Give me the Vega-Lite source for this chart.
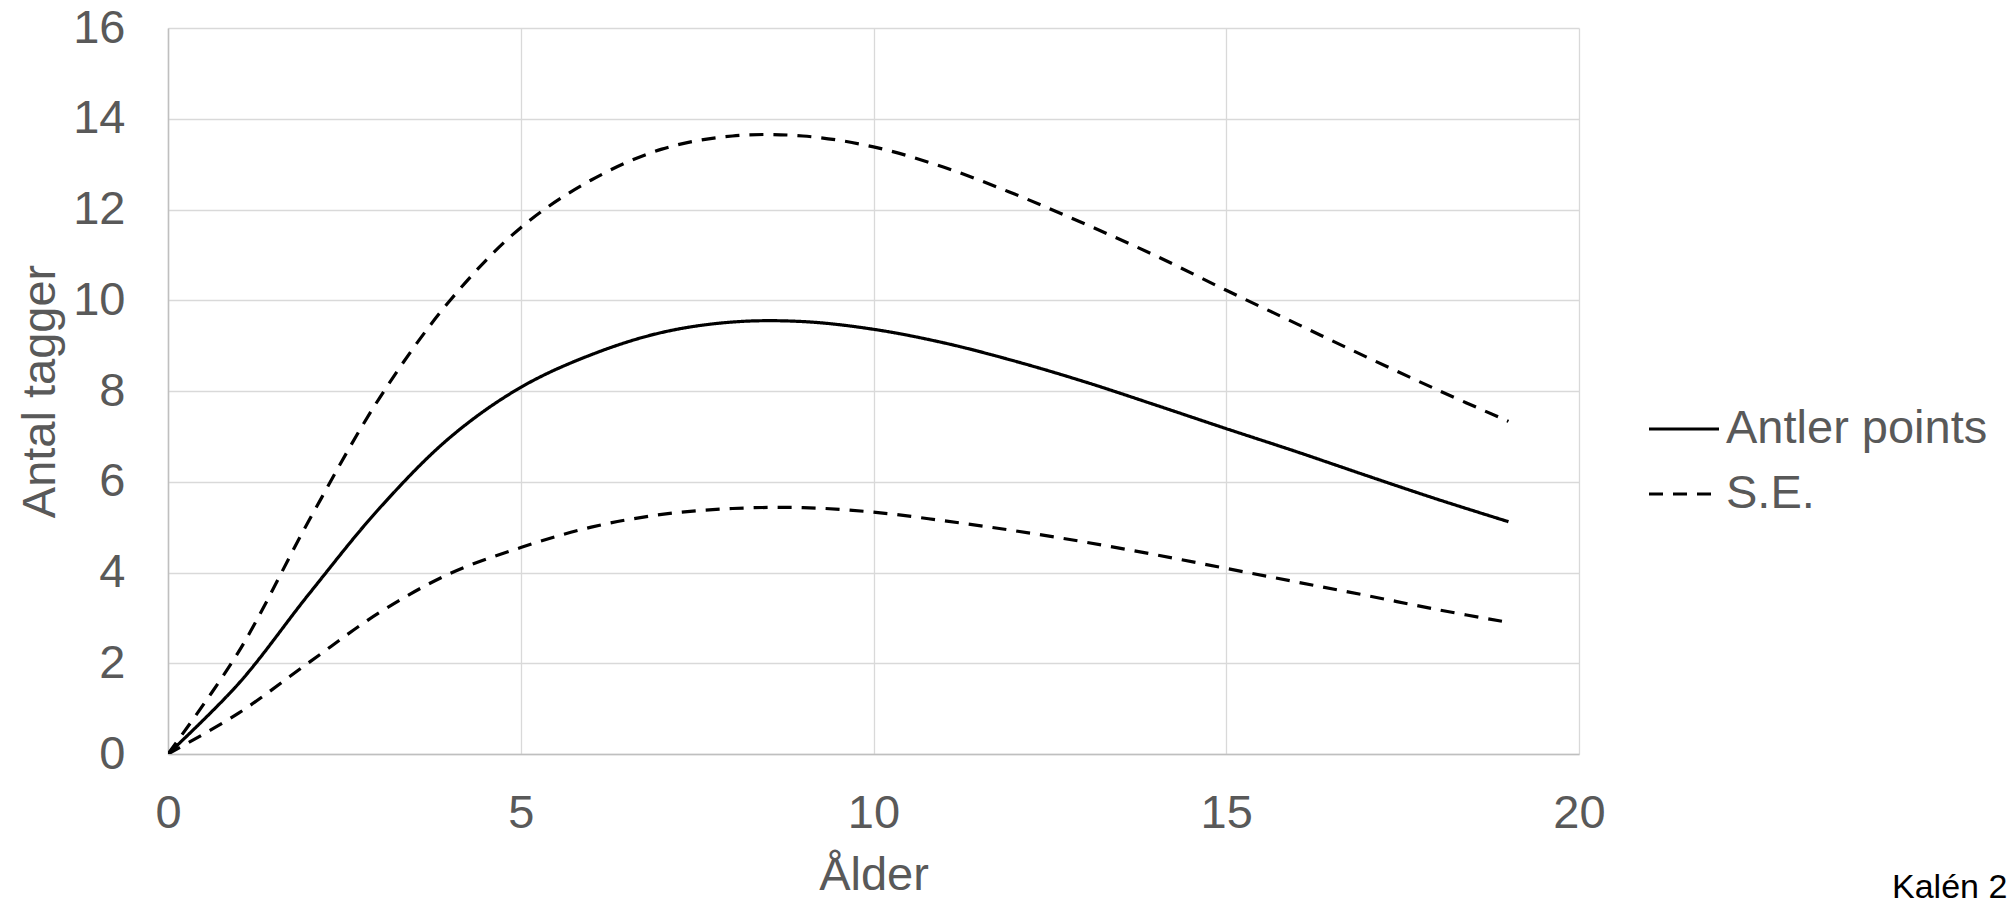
{
  "$schema": "https://vega.github.io/schema/vega-lite/v6.json",
  "width": 1411,
  "height": 726,
  "autosize": {"type": "none"},
  "padding": {"left": 168, "top": 28, "right": 429, "bottom": 144},
  "background": "white",
  "title": {
    "text": "Kalén 2",
    "orient": "bottom",
    "anchor": "end",
    "frame": "group",
    "align": "left",
    "baseline": "alphabetic",
    "dx": 313,
    "dy": 0,
    "offset": 0,
    "font": "Liberation Sans",
    "fontSize": 34,
    "fontWeight": "normal",
    "color": "#000000"
  },
  "data": {
    "values": [
      {"age": 0, "value": 0, "series": "Antler points", "curve": "A"},
      {"age": 1, "value": 1.55, "series": "Antler points", "curve": "A"},
      {"age": 2, "value": 3.53, "series": "Antler points", "curve": "A"},
      {"age": 3, "value": 5.42, "series": "Antler points", "curve": "A"},
      {"age": 4, "value": 6.98, "series": "Antler points", "curve": "A"},
      {"age": 5, "value": 8.08, "series": "Antler points", "curve": "A"},
      {"age": 6, "value": 8.8, "series": "Antler points", "curve": "A"},
      {"age": 7, "value": 9.29, "series": "Antler points", "curve": "A"},
      {"age": 8, "value": 9.52, "series": "Antler points", "curve": "A"},
      {"age": 9, "value": 9.53, "series": "Antler points", "curve": "A"},
      {"age": 10, "value": 9.36, "series": "Antler points", "curve": "A"},
      {"age": 11, "value": 9.06, "series": "Antler points", "curve": "A"},
      {"age": 12, "value": 8.66, "series": "Antler points", "curve": "A"},
      {"age": 13, "value": 8.2, "series": "Antler points", "curve": "A"},
      {"age": 14, "value": 7.69, "series": "Antler points", "curve": "A"},
      {"age": 15, "value": 7.17, "series": "Antler points", "curve": "A"},
      {"age": 16, "value": 6.66, "series": "Antler points", "curve": "A"},
      {"age": 17, "value": 6.13, "series": "Antler points", "curve": "A"},
      {"age": 18, "value": 5.61, "series": "Antler points", "curve": "A"},
      {"age": 19, "value": 5.12, "series": "Antler points", "curve": "A"},
      {"age": 0, "value": 0, "series": "S.E.", "curve": "U"},
      {"age": 1, "value": 2.25, "series": "S.E.", "curve": "U"},
      {"age": 2, "value": 5.15, "series": "S.E.", "curve": "U"},
      {"age": 3, "value": 7.85, "series": "S.E.", "curve": "U"},
      {"age": 4, "value": 10.0, "series": "S.E.", "curve": "U"},
      {"age": 5, "value": 11.6, "series": "S.E.", "curve": "U"},
      {"age": 6, "value": 12.65, "series": "S.E.", "curve": "U"},
      {"age": 7, "value": 13.33, "series": "S.E.", "curve": "U"},
      {"age": 8, "value": 13.62, "series": "S.E.", "curve": "U"},
      {"age": 9, "value": 13.62, "series": "S.E.", "curve": "U"},
      {"age": 10, "value": 13.38, "series": "S.E.", "curve": "U"},
      {"age": 11, "value": 12.93, "series": "S.E.", "curve": "U"},
      {"age": 12, "value": 12.34, "series": "S.E.", "curve": "U"},
      {"age": 13, "value": 11.68, "series": "S.E.", "curve": "U"},
      {"age": 14, "value": 10.98, "series": "S.E.", "curve": "U"},
      {"age": 15, "value": 10.22, "series": "S.E.", "curve": "U"},
      {"age": 16, "value": 9.48, "series": "S.E.", "curve": "U"},
      {"age": 17, "value": 8.74, "series": "S.E.", "curve": "U"},
      {"age": 18, "value": 8.02, "series": "S.E.", "curve": "U"},
      {"age": 19, "value": 7.33, "series": "S.E.", "curve": "U"},
      {"age": 0, "value": 0, "series": "S.E.", "curve": "L"},
      {"age": 1, "value": 0.9, "series": "S.E.", "curve": "L"},
      {"age": 2, "value": 2.02, "series": "S.E.", "curve": "L"},
      {"age": 3, "value": 3.12, "series": "S.E.", "curve": "L"},
      {"age": 4, "value": 3.98, "series": "S.E.", "curve": "L"},
      {"age": 5, "value": 4.55, "series": "S.E.", "curve": "L"},
      {"age": 6, "value": 5.0, "series": "S.E.", "curve": "L"},
      {"age": 7, "value": 5.28, "series": "S.E.", "curve": "L"},
      {"age": 8, "value": 5.41, "series": "S.E.", "curve": "L"},
      {"age": 9, "value": 5.43, "series": "S.E.", "curve": "L"},
      {"age": 10, "value": 5.33, "series": "S.E.", "curve": "L"},
      {"age": 11, "value": 5.14, "series": "S.E.", "curve": "L"},
      {"age": 12, "value": 4.92, "series": "S.E.", "curve": "L"},
      {"age": 13, "value": 4.67, "series": "S.E.", "curve": "L"},
      {"age": 14, "value": 4.39, "series": "S.E.", "curve": "L"},
      {"age": 15, "value": 4.09, "series": "S.E.", "curve": "L"},
      {"age": 16, "value": 3.79, "series": "S.E.", "curve": "L"},
      {"age": 17, "value": 3.49, "series": "S.E.", "curve": "L"},
      {"age": 18, "value": 3.18, "series": "S.E.", "curve": "L"},
      {"age": 19, "value": 2.9, "series": "S.E.", "curve": "L"}
    ]
  },
  "mark": {"type": "line", "interpolate": "catmull-rom", "strokeWidth": 3.2, "color": "#000000", "clip": true},
  "encoding": {
    "x": {
      "field": "age",
      "type": "quantitative",
      "scale": {"domain": [0, 20], "nice": false, "zero": true},
      "axis": {
        "title": "Ålder",
        "values": [0, 5, 10, 15, 20],
        "labelPadding": 36,
        "titlePadding": 16
      }
    },
    "y": {
      "field": "value",
      "type": "quantitative",
      "scale": {"domain": [0, 16], "nice": false},
      "axis": {
        "title": "Antal tagger",
        "values": [0, 2, 4, 6, 8, 10, 12, 14, 16],
        "labelPadding": 43,
        "titlePadding": 8
      }
    },
    "strokeDash": {
      "field": "series",
      "type": "nominal",
      "scale": {"domain": ["Antler points", "S.E."], "range": [[1, 0], [14, 10]]},
      "legend": {
        "title": null,
        "orient": "none",
        "legendX": 1479,
        "legendY": 364,
        "symbolType": "stroke",
        "symbolSize": 4900,
        "symbolStrokeWidth": 3.2,
        "symbolStrokeColor": "#000000",
        "labelFont": "Liberation Sans",
        "labelFontSize": 47,
        "labelColor": "#595959",
        "labelLimit": 0,
        "labelOffset": 5,
        "rowPadding": 5,
        "padding": 0
      }
    },
    "detail": {"field": "curve", "type": "nominal"}
  },
  "config": {
    "view": {"stroke": null},
    "axis": {
      "labelFont": "Liberation Sans",
      "labelFontSize": 47,
      "labelColor": "#595959",
      "titleFont": "Liberation Sans",
      "titleFontSize": 47,
      "titleFontWeight": "normal",
      "titleColor": "#595959",
      "ticks": false,
      "domainColor": "#bfbfbf",
      "domainWidth": 1.5,
      "gridColor": "#d9d9d9",
      "gridWidth": 1.3,
      "labelFlush": false,
      "labelOverlap": false
    }
  }
}
